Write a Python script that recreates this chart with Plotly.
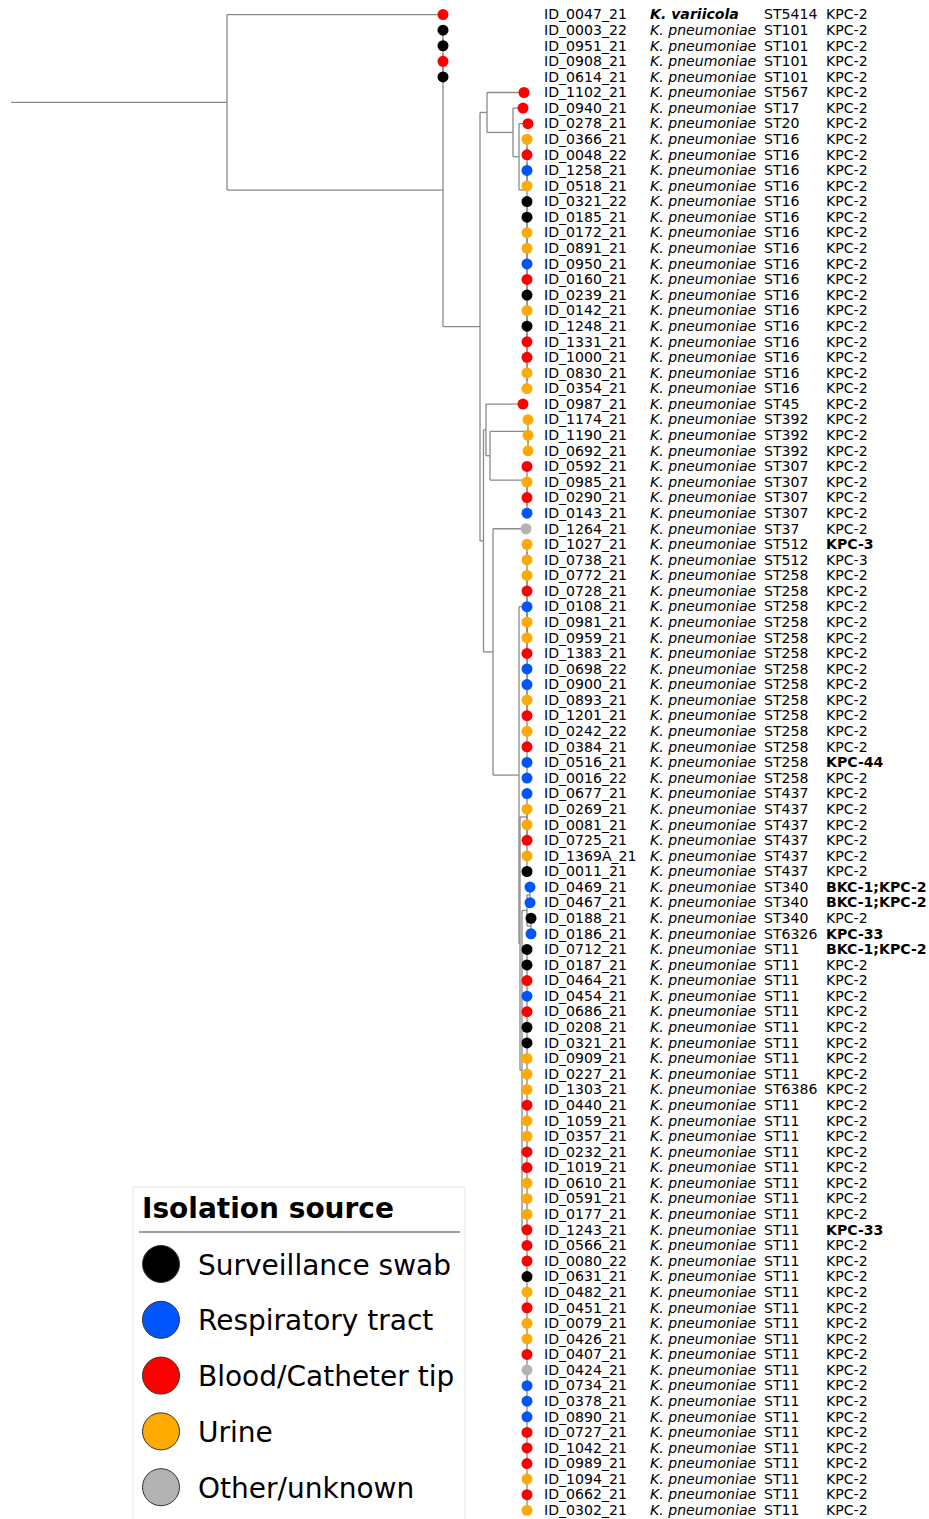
import plotly.graph_objects as go

# ---------------- data ----------------
ids = ["ID_0047_21","ID_0003_22","ID_0951_21","ID_0908_21","ID_0614_21","ID_1102_21","ID_0940_21",
       "ID_0278_21","ID_0366_21","ID_0048_22","ID_1258_21","ID_0518_21","ID_0321_22","ID_0185_21",
       "ID_0172_21","ID_0891_21","ID_0950_21","ID_0160_21","ID_0239_21","ID_0142_21","ID_1248_21",
       "ID_1331_21","ID_1000_21","ID_0830_21","ID_0354_21","ID_0987_21","ID_1174_21","ID_1190_21",
       "ID_0692_21","ID_0592_21","ID_0985_21","ID_0290_21","ID_0143_21","ID_1264_21","ID_1027_21",
       "ID_0738_21","ID_0772_21","ID_0728_21","ID_0108_21","ID_0981_21","ID_0959_21","ID_1383_21",
       "ID_0698_22","ID_0900_21","ID_0893_21","ID_1201_21","ID_0242_22","ID_0384_21","ID_0516_21",
       "ID_0016_22","ID_0677_21","ID_0269_21","ID_0081_21","ID_0725_21","ID_1369A_21","ID_0011_21",
       "ID_0469_21","ID_0467_21","ID_0188_21","ID_0186_21","ID_0712_21","ID_0187_21","ID_0464_21",
       "ID_0454_21","ID_0686_21","ID_0208_21","ID_0321_21","ID_0909_21","ID_0227_21","ID_1303_21",
       "ID_0440_21","ID_1059_21","ID_0357_21","ID_0232_21","ID_1019_21","ID_0610_21","ID_0591_21",
       "ID_0177_21","ID_1243_21","ID_0566_21","ID_0080_22","ID_0631_21","ID_0482_21","ID_0451_21",
       "ID_0079_21","ID_0426_21","ID_0407_21","ID_0424_21","ID_0734_21","ID_0378_21","ID_0890_21",
       "ID_0727_21","ID_1042_21","ID_0989_21","ID_1094_21","ID_0662_21","ID_0302_21"]

species = ["K. variicola"] + ["K. pneumoniae"] * 96

st_types = ["ST5414","ST101","ST101","ST101","ST101","ST567","ST17","ST20"] + ["ST16"] * 17 + \
           ["ST45","ST392","ST392","ST392","ST307","ST307","ST307","ST307","ST37","ST512","ST512"] + \
           ["ST258"] * 14 + ["ST437"] * 6 + ["ST340","ST340","ST340","ST6326"] + \
           ["ST11"] * 9 + ["ST6386"] + ["ST11"] * 27

genes = ["KPC-2"] * 34 + ["KPC-3","KPC-3"] + ["KPC-2"] * 12 + ["KPC-44","KPC-2"] + ["KPC-2"] * 6 + \
        ["BKC-1;KPC-2","BKC-1;KPC-2","KPC-2","KPC-33","BKC-1;KPC-2"] + ["KPC-2"] * 17 + ["KPC-33"] + \
        ["KPC-2"] * 18

highlighted = ["ID_1027_21","ID_0516_21","ID_0469_21","ID_0467_21","ID_0186_21","ID_0712_21","ID_1243_21"]

# isolation source codes: S=surveillance swab, R=respiratory, B=blood/catheter, U=urine, O=other
sources = ["B","S","S","B","S","B","B","B","U","B","R","U","S","S","U","U","R","B","S","U",
           "S","B","B","U","U","B","U","U","U","B","U","B","R","O","U","U","U","B","R","U",
           "U","B","R","R","U","B","U","B","R","R","R","U","U","B","U","S","R","R","S","R",
           "S","S","B","R","B","S","S","U","U","U","B","U","U","B","B","U","U","U","B","B",
           "B","S","U","B","U","U","B","O","R","R","R","B","B","B","U","B","U"]

source_codes = ["S", "R", "B", "U", "O"]
source_names = ["Surveillance swab", "Respiratory tract", "Blood/Catheter tip", "Urine", "Other/unknown"]
source_colors = ["#000000", "#0055FF", "#FF0000", "#FFAA00", "#B3B3B3"]

# ---------------- tree (branch lengths, arbitrary distance units) ----------------
def leaf(i, bl=0.0):
    return {"leaf": i, "bl": bl}

def node(bl, *kids):
    return {"bl": bl, "kids": list(kids)}

def ladder(rows, bl=0.0):
    if len(rows) == 1:
        return leaf(rows[0], bl)
    return node(bl, leaf(rows[0]), ladder(rows[1:]))

def poly(rows, bl=0.0):
    return node(bl, *[leaf(r) for r in rows])

root_edge = 216
tree = node(root_edge,
    leaf(0, 216),
    node(216,
        node(0, node(0, leaf(1), leaf(2)), node(0, leaf(3), leaf(4))),            # ST101
        node(37,
            node(7,
                leaf(5, 37),
                node(26,
                    leaf(6, 10),
                    node(6,
                        leaf(7, 9),
                        node(8,                                                  # ST16
                            node(0, node(0, leaf(8), leaf(9)), node(0, leaf(10), leaf(11))),
                            ladder(list(range(12, 25))))))),
            node(3.5,
                node(2.5,
                    leaf(25, 37),
                    node(4,
                        node(38, leaf(26), node(0, leaf(27), leaf(28))),         # ST392
                        node(37, leaf(29), node(0, leaf(30), node(0, leaf(31), leaf(32)))))),  # ST307
                node(9.5,
                    leaf(33, 33),
                    node(26,
                        node(8, node(0, leaf(34), leaf(35)),                     # ST512 / ST258
                             node(0, poly(list(range(36, 41))), poly(list(range(41, 50))))),
                        node(1,
                            node(7, leaf(50), poly(list(range(51, 56)))),        # ST437
                            node(2,
                                node(5, node(3, leaf(56), leaf(57)),             # ST340 / ST6326
                                        node(4, leaf(58), leaf(59))),
                                node(5, poly(list(range(60, 97))))))))))))       # ST11

# compute coordinates
lx, ly = [], []
leaf_x = {}

def layout(n, x0):
    x = x0 + n["bl"]
    if "leaf" in n:
        leaf_x[n["leaf"]] = x
        return x, float(n["leaf"])
    pos = [layout(k, x) for k in n["kids"]]
    ys = [p[1] for p in pos]
    for (cx, cy) in pos:
        lx.extend([x, cx, None]); ly.extend([cy, cy, None])
    lx.extend([x, x, None]); ly.extend([min(ys), max(ys), None])
    y = sum(ys) / len(ys)
    return x, y

rx, ry = layout(tree, 0.0)
lx.extend([0.0, rx, None]); ly.extend([ry, ry, None])

# ---------------- figure ----------------
W, H = 929, 1519
ROW = 15.58
TOP = 14.6
FONT = "DejaVu Sans"
fig = go.Figure()

fig.add_trace(go.Scatter(x=lx, y=ly, mode="lines", line=dict(color="#8a8a8a", width=1.3),
                         hoverinfo="skip", showlegend=False))

n = len(ids)
rows = list(range(n))
col_of = dict(zip(source_codes, source_colors))
fig.add_trace(go.Scatter(x=[leaf_x[i] for i in rows], y=rows, mode="markers",
                         marker=dict(size=11, color=[col_of[s] for s in sources], line=dict(width=0)),
                         text=ids, hoverinfo="text", showlegend=False))

# text columns (x positions in tree units)
col_x = {"id": 533, "sp": 639, "st": 753, "gene": 815}
sp_txt = [("<b><i>%s</i></b>" % s) if s != "K. pneumoniae" else ("<i>%s</i>" % s) for s in species]
gene_txt = [("<b>%s</b>" % g) if i in highlighted else g for g, i in zip(genes, ids)]
text_rows = [r + 0.08 for r in rows]
for key, txt in [("id", ids), ("sp", sp_txt), ("st", st_types), ("gene", gene_txt)]:
    fig.add_trace(go.Scatter(x=[col_x[key]] * n, y=text_rows, mode="text", text=txt,
                             textposition="middle right",
                             textfont=dict(family=FONT, size=14.1, color="#000000"),
                             hoverinfo="skip", showlegend=False))

# legend (drawn on a pixel-like overlay axis)
fig.add_shape(type="rect", xref="x2", yref="y2", x0=133, x1=465, y0=1187, y1=1530,
              line=dict(color="#e6e6e6", width=1), fillcolor="white", layer="below")
fig.add_shape(type="line", xref="x2", yref="y2", x0=139, x1=460, y0=1232, y1=1232,
              line=dict(color="#808080", width=1.3))
fig.add_annotation(xref="x2", yref="y2", x=140, y=1208, text="<b>Isolation source</b>",
                   showarrow=False, xanchor="left", yanchor="middle",
                   font=dict(family=FONT, size=28, color="#000000"))
leg_y = [1264 + 55.8 * k for k in range(len(source_names))]
fig.add_trace(go.Scatter(x=[161] * len(source_names), y=leg_y, mode="markers",
                         marker=dict(size=37, color=source_colors, line=dict(color="#333333", width=1)),
                         xaxis="x2", yaxis="y2", hoverinfo="skip", showlegend=False))
for name, yy in zip(source_names, leg_y):
    fig.add_annotation(xref="x2", yref="y2", x=196, y=yy + 1, text=name, showarrow=False,
                       xanchor="left", yanchor="middle",
                       font=dict(family=FONT, size=28, color="#000000"))

fig.update_layout(
    width=W, height=H, margin=dict(l=0, r=0, t=0, b=0),
    paper_bgcolor="white", plot_bgcolor="white", showlegend=False,
    xaxis=dict(range=[-11, W - 11], visible=False, fixedrange=True),
    yaxis=dict(range=[(H - TOP) / ROW, -TOP / ROW], visible=False, fixedrange=True),
    xaxis2=dict(range=[0, W], visible=False, overlaying="x", fixedrange=True),
    yaxis2=dict(range=[H, 0], visible=False, overlaying="y", fixedrange=True),
)

fig.write_html("out.html", config={"displayModeBar": False},
               post_script="document.body.style.margin='0';document.body.style.overflow='hidden';")
